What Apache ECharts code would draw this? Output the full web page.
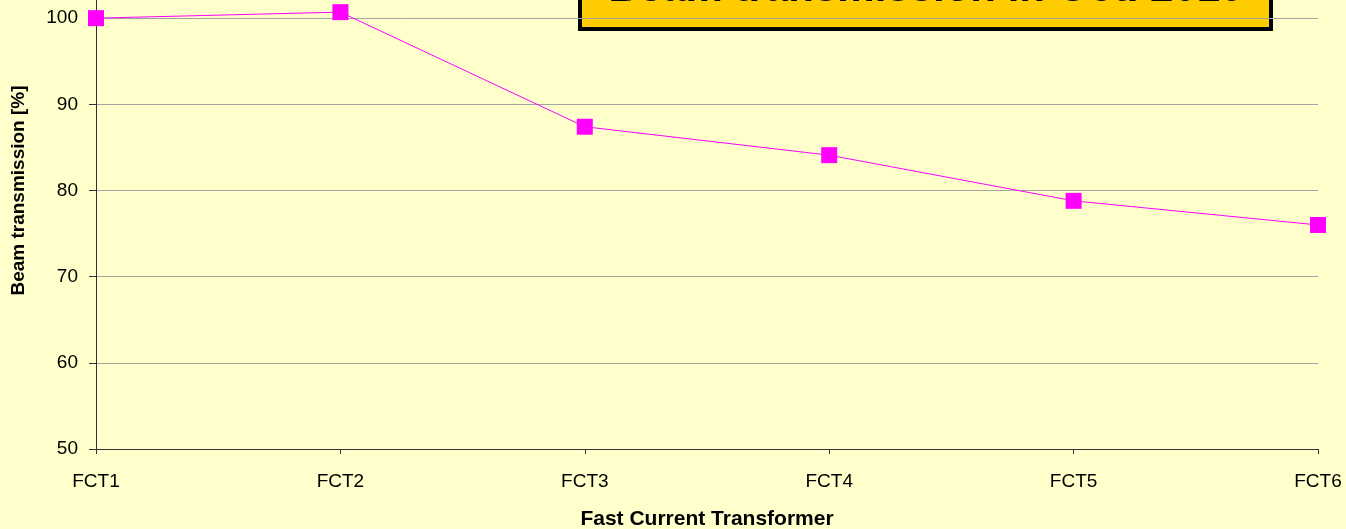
<!DOCTYPE html>
<html>
<head>
<meta charset="utf-8">
<script src="https://cdn.jsdelivr.net/npm/echarts@6/dist/echarts.min.js"></script>
<style>
  html, body { margin: 0; padding: 0; background: #ffffcc; }
  #chart { width: 1346px; height: 529px; }
</style>
</head>
<body>
<div id="chart"></div>
<script>
// transformers along the line
const categories = ['FCT1', 'FCT2', 'FCT3', 'FCT4', 'FCT5', 'FCT6'];
// beam transmission [%]
const transmission = [100.0, 100.7, 87.4, 84.1, 78.8, 76.0];
const yMin = 50, yMax = 110, yStep = 10;
const titleText = 'Beam transmission in Oct. 2010';

const font = '"Liberation Sans", Arial, sans-serif';
const chart = echarts.init(document.getElementById('chart'));

chart.setOption({
    backgroundColor: '#ffffcc',
    animation: false,
    grid: { left: 96, right: 28, top: -68, bottom: 80, containLabel: false, outerBoundsMode: 'none' },
    xAxis: {
        type: 'category',
        data: categories,
        boundaryGap: false,
        name: 'Fast Current Transformer',
        nameLocation: 'middle',
        nameGap: 60,
        nameTextStyle: { fontFamily: font, fontSize: 21, fontWeight: 'bold', color: '#000' },
        axisLine: { lineStyle: { color: '#333', width: 1 } },
        axisTick: { alignWithLabel: true, length: 5, lineStyle: { color: '#333' } },
        axisLabel: { fontFamily: font, fontSize: 19, color: '#000', margin: 23 },
        splitLine: { show: false }
    },
    yAxis: {
        type: 'value',
        min: yMin,
        max: yMax,
        interval: yStep,
        name: 'Beam transmission [%]',
        nameLocation: 'middle',
        nameGap: 68,
        nameTextStyle: { fontFamily: font, fontSize: 19, fontWeight: 'bold', color: '#000' },
        axisLine: { show: true, lineStyle: { color: '#333', width: 1 } },
        axisTick: { show: true, length: 7, lineStyle: { color: '#333' } },
        axisLabel: { fontFamily: font, fontSize: 19, color: '#000', margin: 18 },
        splitLine: { lineStyle: { color: '#a4a4a4', width: 1 } }
    },
    series: [{
        type: 'line',
        data: transmission,
        symbol: 'rect',
        symbolSize: 16,
        lineStyle: { color: '#ff00ff', width: 1 },
        itemStyle: { color: '#ff00ff' }
    }],
    graphic: [{
        type: 'group',
        left: 578,
        top: -40,
        children: [{
            type: 'rect',
            shape: { x: 0, y: 0, width: 691, height: 67 },
            style: { fill: '#ffcc00', stroke: '#000', lineWidth: 4 }
        }, {
            type: 'text',
            x: 346,
            y: 27,
            style: {
                text: titleText,
                font: 'bold 42px ' + font,
                fill: '#000',
                align: 'center',
                verticalAlign: 'middle'
            }
        }]
    }]
});
</script>
</body>
</html>
